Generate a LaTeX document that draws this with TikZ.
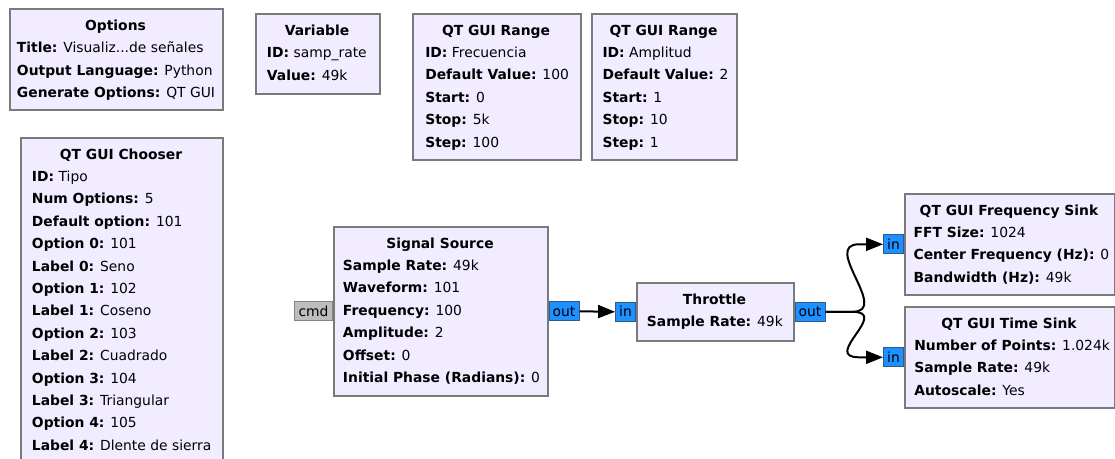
\documentclass[tikz,border=0pt]{standalone}
\usepackage{fontspec}
\setmainfont{DejaVu Sans}
\usetikzlibrary{arrows.meta,calc}
\definecolor{blockfill}{HTML}{F1ECFF}
\definecolor{blockline}{HTML}{7A7A7A}
\definecolor{portblue}{HTML}{1E90FF}
\definecolor{portblueline}{HTML}{2A5C8C}
\definecolor{portgrey}{HTML}{BDBDBD}
\definecolor{portgreyline}{HTML}{858585}
\tikzset{
  blk/.style={draw=blockline, fill=blockfill, line width=1.2pt, rectangle, anchor=north west, inner sep=0pt},
  ttl/.style={font=\fontsize{10.4pt}{12pt}\selectfont\bfseries, anchor=base, inner sep=0pt},
  txt/.style={font=\fontsize{10.4pt}{12pt}\selectfont, anchor=base west, inner sep=0pt},
  port/.style={rectangle, draw=portblueline, fill=portblue, line width=0.7pt, inner sep=0pt,
    minimum height=19*0.75pt, font=\fontsize{10.4pt}{12pt}\selectfont, text depth=0pt, text height=7.5pt},
  msgport/.style={port, draw=portgreyline, fill=portgrey},
  conn/.style={line width=1.5pt, -{Triangle[length=12.75pt, width=9.75pt]}}
}
\begin{document}
\begin{tikzpicture}[x=0.75pt, y=-0.75pt]
\useasboundingbox (0,0) rectangle (1115,458);
\clip (0,0) rectangle (1115,458);

% ---- Options
\node[blk, minimum width=213*0.75pt, minimum height=101*0.75pt] (opt) at (9,8) {};
\node[ttl] (optT) at (115.5,30.5) {Options};
\foreach \k/\v [count=\i] in {Title/{Visualiz...de señales}, Output Language/Python, Generate Options/QT GUI}
  \node[txt] (opt\i) at (16.7,{52.5+22.5*(\i-1)}) {\textbf{\k:} \v};

% ---- Variable
\node[blk, minimum width=124*0.75pt, minimum height=80*0.75pt] (var) at (255,13) {};
\node[ttl] (varT) at (317,35.5) {Variable};
\foreach \k/\v [count=\i] in {ID/samp\_rate, Value/49k}
  \node[txt] (var\i) at (266.7,{57.5+22.5*(\i-1)}) {\textbf{\k:} \v};

% ---- QT GUI Range (Frecuencia)
\node[blk, minimum width=168*0.75pt, minimum height=146*0.75pt] (rgf) at (412,13) {};
\node[ttl] (rgfT) at (496,35.5) {QT GUI Range};
\foreach \k/\v [count=\i] in {ID/Frecuencia, Default Value/100, Start/0, Stop/5k, Step/100}
  \node[txt] (rgf\i) at (425,{57.5+22.4*(\i-1)}) {\textbf{\k:} \v};

% ---- QT GUI Range (Amplitud)
\node[blk, minimum width=145*0.75pt, minimum height=146*0.75pt] (rga) at (591,13) {};
\node[ttl] (rgaT) at (663.5,35.5) {QT GUI Range};
\foreach \k/\v [count=\i] in {ID/Amplitud, Default Value/2, Start/1, Stop/10, Step/1}
  \node[txt] (rga\i) at (602.3,{57.5+22.4*(\i-1)}) {\textbf{\k:} \v};

% ---- QT GUI Chooser
\node[blk, minimum width=202*0.75pt, minimum height=360*0.75pt] (cho) at (20,137) {};
\node[ttl] (choT) at (121,159.5) {QT GUI Chooser};
\foreach \k/\v [count=\i] in {ID/Tipo, Num Options/5, Default option/101,
    Option 0/101, Label 0/Seno, Option 1/102, Label 1/Coseno, Option 2/103,
    Label 2/Cuadrado, Option 3/104, Label 3/Triangular, Option 4/105,
    Label 4/Dlente de sierra}
  \node[txt] (cho\i) at (31.7,{181.5+22.4*(\i-1)}) {\textbf{\k:} \v};

% ---- Signal Source
\node[blk, minimum width=214*0.75pt, minimum height=169*0.75pt] (sig) at (333,226) {};
\node[ttl] (sigT) at (440,248.5) {Signal Source};
\foreach \k/\v [count=\i] in {Sample Rate/49k, Waveform/101, Frequency/100,
    Amplitude/2, Offset/0, Initial Phase (Radians)/0}
  \node[txt] (sig\i) at (342.7,{270.5+22.4*(\i-1)}) {\textbf{\k:} \v};
\node[msgport, minimum width=38*0.75pt, anchor=east] (cmd) at (sig.west) {cmd};
\node[port, minimum width=30*0.75pt, anchor=west] (sigout) at (sig.east) {out};

% ---- Throttle
\node[blk, minimum width=157*0.75pt, minimum height=58*0.75pt] (thr) at (636,282) {};
\node[ttl] (thrT) at (714.5,304.5) {Throttle};
\node[txt] (thr1) at (646.7,326.5) {\textbf{Sample Rate:} 49k};
\node[port, minimum width=20*0.75pt, anchor=east] (thrin) at (thr.west) {in};
\node[port, minimum width=30*0.75pt, anchor=west] (throut) at (thr.east) {out};

% ---- QT GUI Frequency Sink
\node[blk, minimum width=210*0.75pt, minimum height=101*0.75pt] (fsk) at (904,193) {};
\node[ttl] (fskT) at (1009,215.5) {QT GUI Frequency Sink};
\foreach \k/\v [count=\i] in {FFT Size/1024, Center Frequency (Hz)/0, Bandwidth (Hz)/49k}
  \node[txt] (fsk\i) at (913.3,{237.5+22.4*(\i-1)}) {\textbf{\k:} \v};
\node[port, minimum width=20*0.75pt, anchor=east] (fskin) at (fsk.west) {in};

% ---- QT GUI Time Sink
\node[blk, minimum width=210*0.75pt, minimum height=101*0.75pt] (tsk) at (904,306) {};
\node[ttl] (tskT) at (1009,328.5) {QT GUI Time Sink};
\foreach \k/\v [count=\i] in {Number of Points/1.024k, Sample Rate/49k, Autoscale/Yes}
  \node[txt] (tsk\i) at (914,{350.5+22.4*(\i-1)}) {\textbf{\k:} \v};
\node[port, minimum width=20*0.75pt, anchor=east] (tskin) at (tsk.west) {in};

% ---- Connections
\draw[conn] (sigout.east) -- (thrin.west);
\draw[conn] (throut.east) -- ++(27,0)
  .. controls +(38,0) and ($(fskin.west)+(-62,0)$) .. ($(fskin.west)+(-24,0)$) -- (fskin.west);
\draw[conn] (throut.east) -- ++(27,0)
  .. controls +(38,0) and ($(tskin.west)+(-62,0)$) .. ($(tskin.west)+(-24,0)$) -- (tskin.west);
\end{tikzpicture}
\end{document}
